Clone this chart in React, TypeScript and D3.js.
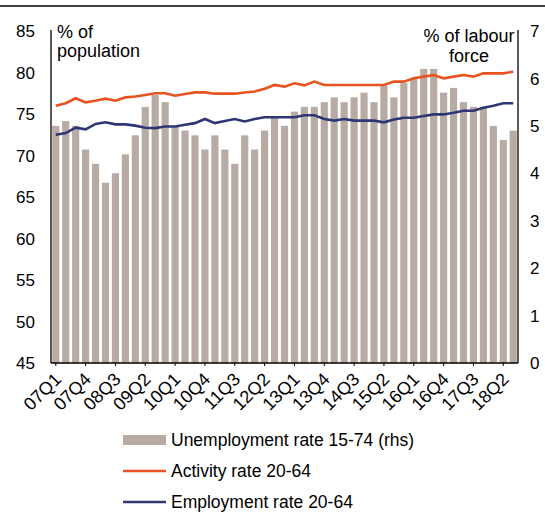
import React, { useEffect, useRef } from "react";
import * as d3 from "d3";

// quarters 07Q1 .. 18Q3
const quarters: string[] = [];
for (let y = 7; y <= 18; y++) {
  for (let q = 1; q <= 4; q++) {
    if (y === 18 && q > 3) break;
    quarters.push(`${String(y).padStart(2, "0")}Q${q}`);
  }
}

const unemployment = [
  5.0, 5.1, 5.0, 4.5, 4.2, 3.8, 4.0, 4.4, 4.8, 5.4, 5.65, 5.5, 5.0, 4.9, 4.8, 4.5,
  4.8, 4.5, 4.2, 4.8, 4.5, 4.9, 5.2, 5.0, 5.3, 5.4, 5.4, 5.5, 5.6, 5.5, 5.6, 5.7,
  5.5, 5.85, 5.6, 5.9, 6.0, 6.2, 6.2, 5.7, 5.8, 5.5, 5.4, 5.4, 5.0, 4.7, 4.9,
];

const activity = [
  76.0, 76.3, 76.9, 76.4, 76.6, 76.85, 76.6, 77.0, 77.1, 77.3, 77.5, 77.5, 77.2, 77.4, 77.6, 77.6,
  77.45, 77.45, 77.45, 77.6, 77.7, 78.05, 78.5, 78.3, 78.7, 78.45, 78.9, 78.5, 78.5, 78.5, 78.5, 78.5,
  78.5, 78.5, 78.9, 78.9, 79.3, 79.5, 79.7, 79.3, 79.5, 79.7, 79.5, 79.9, 79.9, 79.9, 80.1,
];

const employment = [
  72.5, 72.7, 73.35, 73.15, 73.8, 74.0, 73.75, 73.75, 73.6, 73.35, 73.3, 73.5, 73.5, 73.7, 73.9, 74.4,
  73.9, 74.15, 74.4, 74.1, 74.4, 74.6, 74.6, 74.6, 74.6, 74.85, 74.85, 74.4, 74.2, 74.4, 74.2, 74.2,
  74.2, 74.0, 74.35, 74.55, 74.55, 74.75, 74.95, 74.95, 75.15, 75.4, 75.4, 75.75, 76.0, 76.3, 76.3,
];

const leftTicks = [45, 50, 55, 60, 65, 70, 75, 80, 85];
const rightTicks = [0, 1, 2, 3, 4, 5, 6, 7];

const BAR = "#b8aba3";
const ORANGE = "#e8531f";
const BLUE = "#2f3674";
const FONT = "'Liberation Sans', Arial, sans-serif";

const App = () => {
  const svgRef = useRef<SVGSVGElement>(null);

  useEffect(() => {
    const svg = d3.select(svgRef.current);
    svg.selectAll("*").remove();

    const left = 51, right = 518, top = 31, bottom = 363;

    const x = d3
      .scaleBand<number>()
      .domain(d3.range(quarters.length))
      .range([left, right])
      .paddingInner(0.28)
      .paddingOuter(0.12);
    const yL = d3.scaleLinear().domain([45, 85]).range([bottom, top]);
    const yR = d3.scaleLinear().domain([0, 7]).range([bottom, top]);
    const cx = (i: number) => (x(i) as number) + x.bandwidth() / 2;

    // top rule
    svg.append("line")
      .attr("x1", 0).attr("x2", 545).attr("y1", 6).attr("y2", 6)
      .attr("stroke", "#000").attr("stroke-width", 1.5);

    // bars
    svg.append("g")
      .selectAll("rect")
      .data(unemployment)
      .join("rect")
      .attr("x", (_, i) => x(i) as number)
      .attr("width", x.bandwidth())
      .attr("y", (d) => yR(d))
      .attr("height", (d) => bottom - yR(d))
      .attr("fill", BAR);

    const line = (vals: number[]) =>
      d3.line<number>().x((_, i) => cx(i)).y((d) => yL(d))(vals);

    svg.append("path").attr("d", line(activity))
      .attr("fill", "none").attr("stroke", ORANGE).attr("stroke-width", 2.6);
    svg.append("path").attr("d", line(employment))
      .attr("fill", "none").attr("stroke", BLUE).attr("stroke-width", 2.6);

    // axes lines
    const axis = svg.append("g").attr("stroke", "#000").attr("stroke-width", 1.3);
    axis.append("line").attr("x1", left).attr("x2", left).attr("y1", top - 1).attr("y2", bottom);
    axis.append("line").attr("x1", right).attr("x2", right).attr("y1", top - 1).attr("y2", bottom);
    axis.append("line").attr("x1", left).attr("x2", right).attr("y1", bottom).attr("y2", bottom);

    const txt = svg.append("g").style("font-family", FONT).attr("fill", "#000");

    txt.selectAll(".lt")
      .data(leftTicks)
      .join("text")
      .attr("x", 35)
      .attr("y", (d) => yL(d))
      .attr("dy", "0.36em")
      .attr("text-anchor", "end")
      .style("font-size", "17px")
      .text((d) => d);

    txt.selectAll(".rt")
      .data(rightTicks)
      .join("text")
      .attr("x", 530)
      .attr("y", (d) => yR(d))
      .attr("dy", "0.36em")
      .style("font-size", "17px")
      .text((d) => d);

    // x ticks + labels every 3 quarters
    const shown = quarters.map((q, i) => ({ q, i })).filter((d) => d.i % 3 === 0);
    svg.append("g")
      .selectAll("line")
      .data(shown)
      .join("line")
      .attr("x1", (d) => cx(d.i)).attr("x2", (d) => cx(d.i))
      .attr("y1", bottom).attr("y2", bottom + 3)
      .attr("stroke", "#000");
    txt.selectAll(".xl")
      .data(shown)
      .join("text")
      .attr("transform", (d) => `translate(${cx(d.i) + 2},${bottom + 13}) rotate(-45)`)
      .attr("text-anchor", "end")
      .attr("dy", "0.35em")
      .style("font-size", "18px")
      .text((d) => d.q);

    // axis titles
    txt.append("text").attr("x", 57).attr("y", 38).style("font-size", "18px").text("% of");
    txt.append("text").attr("x", 57).attr("y", 57).style("font-size", "18px").text("population");
    txt.append("text").attr("x", 469).attr("y", 42).attr("text-anchor", "middle").style("font-size", "18px").text("% of labour");
    txt.append("text").attr("x", 469).attr("y", 62).attr("text-anchor", "middle").style("font-size", "18px").text("force");

    // legend
    const legend = [
      { label: "Unemployment rate 15-74 (rhs)", color: BAR, bar: true },
      { label: "Activity rate 20-64", color: ORANGE, bar: false },
      { label: "Employment rate 20-64", color: BLUE, bar: false },
    ];
    const lg = svg.append("g").style("font-family", FONT);
    legend.forEach((d, i) => {
      const yy = 440 + i * 31;
      if (d.bar) {
        lg.append("rect").attr("x", 123).attr("y", yy - 5).attr("width", 43).attr("height", 10).attr("fill", d.color);
      } else {
        lg.append("line").attr("x1", 123).attr("x2", 166).attr("y1", yy).attr("y2", yy)
          .attr("stroke", d.color).attr("stroke-width", 2.5);
      }
      lg.append("text").attr("x", 171).attr("y", yy).attr("dy", "0.36em")
        .style("font-size", "17.5px").text(d.label);
    });
  }, []);

  return (
    <svg
      ref={svgRef}
      width={545}
      height={513}
      style={{ position: "absolute", left: 0, top: 0, background: "#fff" }}
    />
  );
};

export default App;
